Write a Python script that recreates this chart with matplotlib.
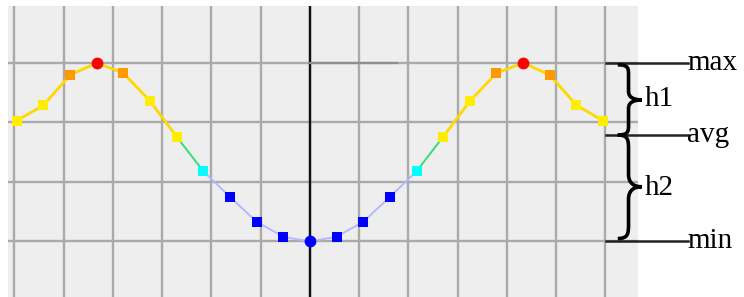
import matplotlib
matplotlib.use("Agg")
import numpy as np
import matplotlib.pyplot as plt
from matplotlib.path import Path
from matplotlib.patches import PathPatch

# data (left half, mirrored around the axis at x=0)
steps = list(range(-11, 12))
left_vals = [2.03, 2.29, 2.80, 3.00, 2.83, 2.36, 1.76, 1.18, 0.75, 0.33, 0.08, 0.00]
values = left_vals + left_vals[-2::-1]
left_colors = ['#ffee00', '#ffee00', '#ff9900', '#ff0000', '#ff9900', '#ffee00',
               '#ffee00', '#00ffff', '#0000ff', '#0000ff', '#0000ff', '#0000ff']
point_colors = left_colors + left_colors[-2::-1]
left_markers = ['s', 's', 's', 'o', 's', 's', 's', 's', 's', 's', 's', 'o']
point_markers = left_markers + left_markers[-2::-1]
left_seg_colors = ['#ffd800'] * 6 + ['#33dd77'] + ['#b4b8ff'] * 4
seg_colors = left_seg_colors + left_seg_colors[::-1]

v_max, v_avg, v_min = 3.0, 1.79, 0.0
level_labels = ['max', 'avg', 'min']
brace_labels = ['h1', 'h2']

fig = plt.figure(figsize=(7.44, 2.97), dpi=100)
ax = fig.add_axes([8 / 744, 0, 630 / 744, 291 / 297])
ax.set_facecolor('#eeeeee')
ax.set_xlim(-11.33, 12.31)
ax.set_ylim(-0.933, 3.958)
for s in ax.spines.values():
    s.set_visible(False)
ax.set_xticks(np.arange(-6, 7) * 1.848)
ax.set_yticks([0, 1, 2, 3])
ax.tick_params(length=0, labelbottom=False, labelleft=False)
ax.grid(True, color='#aaaaaa', linewidth=1.7)
ax.set_axisbelow(True)

# axis line + slightly darker bit of the max gridline
ax.axvline(0, color='#111111', linewidth=1.7, zorder=2)
ax.plot([0, 3.26], [3.0, 3.0], color='#8e8e8e', linewidth=1.6, zorder=2)

# line segments
for i in range(len(steps) - 1):
    lw = 2.0 if seg_colors[i] == '#ffd800' else 1.4
    ax.plot(steps[i:i + 2], values[i:i + 2], color=seg_colors[i], linewidth=lw, zorder=3)

# points
for x, y, c, m in zip(steps, values, point_colors, point_markers):
    ax.plot(x, y, marker=m, color=c, markersize=8.5 if m == 'o' else 7.2,
            markeredgewidth=0, linestyle='none', zorder=4)

# right-hand annotation
x_line0, x_line1 = 11.11, 14.18
for lvl, lab in zip([v_max, v_avg, v_min], level_labels):
    ax.plot([x_line0, x_line1], [lvl, lvl], color='#222222', linewidth=1.8, clip_on=False)
    ax.text(x_line1 - 0.02, lvl, lab, fontsize=21, family='Liberation Serif',
            ha='left', va='center', clip_on=False)


def brace(ax, x0, y_top, y_bot, w):
    ym = (y_top + y_bot) / 2
    h = y_top - y_bot
    xm = x0 + w * 0.45
    verts = [(x0, y_top),
             (xm, y_top), (xm, y_top - 0.05 * h), (xm, y_top - 0.15 * h),
             (xm, ym + 0.12 * h),
             (xm, ym + 0.03 * h), (x0 + w * 0.7, ym), (x0 + w, ym),
             (x0 + w * 0.7, ym), (xm, ym - 0.03 * h), (xm, ym - 0.12 * h),
             (xm, y_bot + 0.15 * h),
             (xm, y_bot + 0.05 * h), (xm, y_bot), (x0, y_bot)]
    codes = [Path.MOVETO] + [Path.CURVE4] * 3 + [Path.LINETO] + [Path.CURVE4] * 6 \
        + [Path.LINETO] + [Path.CURVE4] * 3
    ax.add_patch(PathPatch(Path(verts, codes), facecolor='none', edgecolor='black',
                           linewidth=2.6, clip_on=False, zorder=5))


brace(ax, 11.55, v_max - 0.03, v_avg, 0.9)
brace(ax, 11.55, v_avg, v_min + 0.05, 0.9)
ax.text(12.55, (v_max + v_avg) / 2, brace_labels[0], fontsize=21, family='Liberation Serif',
        ha='left', va='center', clip_on=False)
ax.text(12.55, (v_avg + v_min) / 2, brace_labels[1], fontsize=21, family='Liberation Serif',
        ha='left', va='center', clip_on=False)

fig.savefig('out.png', dpi=100, facecolor='white')
